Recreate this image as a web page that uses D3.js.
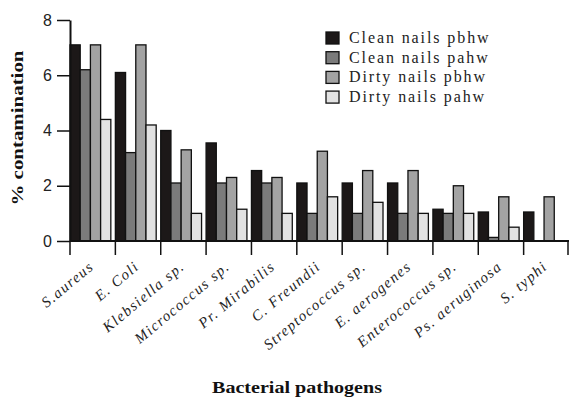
<!DOCTYPE html>
<html><head><meta charset="utf-8">
<script src="https://cdn.jsdelivr.net/npm/d3@7"></script>
<style>body{margin:0;background:#fff}svg{display:block}</style>
</head><body>
<script>
const categories = ["S.aureus","E. Coli","Klebsiella sp.","Micrococcus sp.","Pr. Mirabilis","C. Freundii","Streptococcus sp.","E. aerogenes","Enterococcus sp.","Ps. aeruginosa","S. typhi"];
const seriesNames = ["Clean nails pbhw","Clean nails pahw","Dirty nails pbhw","Dirty nails pahw"];
const cleanPbhw = [7.1, 6.1, 4.0, 3.55, 2.55, 2.1, 2.1, 2.1, 1.15, 1.05, 1.05];
const cleanPahw = [6.2, 3.2, 2.1, 2.1, 2.1, 1.0, 1.0, 1.0, 1.0, 0.13, 0];
const dirtyPbhw = [7.1, 7.1, 3.3, 2.3, 2.3, 3.25, 2.55, 2.55, 2.0, 1.6, 1.6];
const dirtyPahw = [4.4, 4.2, 1.0, 1.15, 1.0, 1.6, 1.4, 1.0, 1.0, 0.5, 0];
const yTicks = [0, 2, 4, 6, 8];
const colors = ["#1c1818", "#7b7b7b", "#a3a3a3", "#e2e2e2"];
const series = [cleanPbhw, cleanPahw, dirtyPbhw, dirtyPahw];

const W = 569, H = 399;
const svg = d3.select("body").append("svg").attr("width", W).attr("height", H);
const mLeft = 70, mRight = 569, mTop = 20, mBottom = 241;

const x0 = d3.scaleBand().domain(categories).range([mLeft, mRight]).padding(0);
const x1 = d3.scaleBand().domain(d3.range(4)).range([0, x0.bandwidth() * 0.9]).padding(0);
const y = d3.scaleLinear().domain([0, 8]).range([mBottom, mTop]);

// bars
const g = svg.append("g");
categories.forEach((c, i) => {
  series.forEach((s, j) => {
    const v = s[i];
    if (v <= 0) return;
    g.append("rect")
      .attr("x", x0(c) + x1(j))
      .attr("y", y(v))
      .attr("width", x1.bandwidth())
      .attr("height", y(0) - y(v))
      .attr("fill", colors[j])
      .attr("stroke", "#111")
      .attr("stroke-width", 1.3);
  });
});

// y axis
const yAxis = d3.axisLeft(y).tickValues(yTicks).tickSize(13).tickPadding(5).tickSizeOuter(0);
const ya = svg.append("g").attr("transform", `translate(${mLeft},0)`).call(yAxis);
ya.select(".domain").attr("stroke", "#111").attr("stroke-width", 2);
ya.selectAll(".tick line").attr("stroke", "#111").attr("stroke-width", 1.5);
ya.selectAll(".tick text").attr("font-family", "Liberation Sans, Arial, sans-serif").attr("font-size", 16).attr("fill", "#222");

// x axis line and boundary ticks
svg.append("line").attr("x1", mLeft).attr("x2", mRight).attr("y1", mBottom).attr("y2", mBottom)
  .attr("stroke", "#111").attr("stroke-width", 2);
const bounds = categories.map(c => x0(c)).concat([mRight - 1]);
svg.selectAll(".bt").data(bounds).enter().append("line")
  .attr("x1", d => d).attr("x2", d => d).attr("y1", mBottom).attr("y2", mBottom + 14)
  .attr("stroke", "#111").attr("stroke-width", 1.5);

// x labels
svg.selectAll(".xl").data(categories).enter().append("text")
  .attr("transform", d => `translate(${x0(d) + x0.bandwidth() / 2 + 2},${mBottom + 27}) rotate(-40)`)
  .attr("text-anchor", "end")
  .attr("font-family", "Liberation Serif, Times New Roman, serif")
  .attr("font-style", "italic")
  .attr("font-size", 15)
  .attr("letter-spacing", 1.4)
  .attr("fill", "#222")
  .text(d => d);

// axis titles
svg.append("text")
  .attr("x", 297).attr("y", 393)
  .attr("text-anchor", "middle")
  .attr("font-family", "Liberation Serif, Times New Roman, serif")
  .attr("font-weight", "bold").attr("font-size", 17)
  .attr("textLength", 170).attr("lengthAdjust", "spacingAndGlyphs")
  .attr("fill", "#111")
  .text("Bacterial pathogens");
svg.append("text")
  .attr("transform", "translate(23,128) rotate(-90)")
  .attr("text-anchor", "middle")
  .attr("font-family", "Liberation Serif, Times New Roman, serif")
  .attr("font-weight", "bold").attr("font-size", 17)
  .attr("textLength", 155).attr("lengthAdjust", "spacingAndGlyphs")
  .attr("fill", "#111")
  .text("% contamination");

// legend
const lg = svg.append("g");
seriesNames.forEach((n, j) => {
  const yy = 32 + j * 19.7;
  lg.append("rect").attr("x", 326).attr("y", yy).attr("width", 13).attr("height", 12)
    .attr("fill", colors[j]).attr("stroke", "#111").attr("stroke-width", 1.3);
  lg.append("text").attr("x", 349).attr("y", yy + 11)
    .attr("font-family", "Liberation Serif, Times New Roman, serif")
    .attr("font-size", 16).attr("letter-spacing", 1.9)
    .attr("fill", "#222")
    .text(n);
});
</script>
</body></html>
